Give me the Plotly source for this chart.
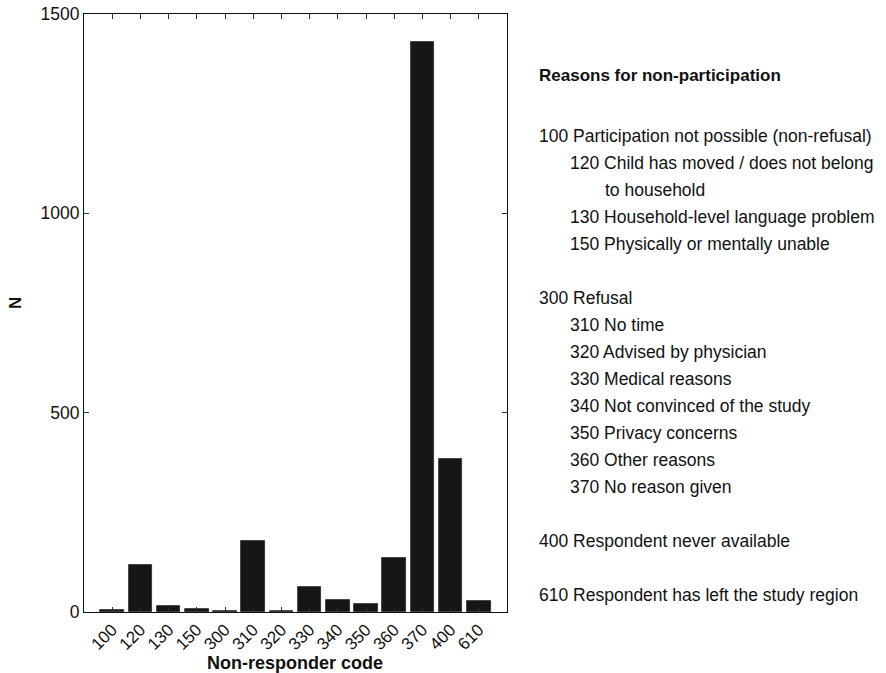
import plotly.graph_objects as go

# Non-responder codes and counts
codes = ["100", "120", "130", "150", "300", "310", "320", "330",
         "340", "350", "360", "370", "400", "610"]
counts = [5, 119, 14, 8, 3, 178, 2, 62, 31, 19, 135, 1430, 385, 27]

y_ticks = [0, 500, 1000, 1500]

legend_title = "Reasons for non-participation"
# (text, indent level) for the code key beside the chart; None = blank line
legend_lines = [
    None, None,
    ("100 Participation not possible (non-refusal)", 0),
    ("120 Child has moved / does not belong", 1),
    ("to household", 2),
    ("130 Household-level language problem", 1),
    ("150 Physically or mentally unable", 1),
    None,
    ("300 Refusal", 0),
    ("310 No time", 1),
    ("320 Advised by physician", 1),
    ("330 Medical reasons", 1),
    ("340 Not convinced of the study", 1),
    ("350 Privacy concerns", 1),
    ("360 Other reasons", 1),
    ("370 No reason given", 1),
    None,
    ("400 Respondent never available", 0),
    None,
    ("610 Respondent has left the study region", 0),
]

FONT = "Liberation Sans, Arial, sans-serif"
W, H = 886, 673
L, R, T, B = 84, 379, 14, 61
plot_w = W - L - R
plot_h = H - T - B


def px_to_paper(px, py):
    return (px - L) / plot_w, (H - B - py) / plot_h


fig = go.Figure()
fig.add_trace(go.Bar(
    x=list(range(len(codes))),
    y=counts,
    width=0.84,
    marker=dict(color="#161616", line=dict(color="#2a2a2a", width=0.8)),
    hovertext=codes,
))

annotations = []
# key title
tx, ty = px_to_paper(537, 75)
annotations.append(dict(
    text="<b>%s</b>" % legend_title, x=tx, y=ty, xref="paper", yref="paper",
    xanchor="left", yanchor="middle", showarrow=False,
    font=dict(family=FONT, size=17, color="#111"),
))
indent_px = [537, 568, 603]
line_y0, line_step = 82, 27.0
for i, item in enumerate(legend_lines):
    if item is None:
        continue
    text, lvl = item
    x, y = px_to_paper(indent_px[lvl], line_y0 + line_step * i)
    annotations.append(dict(
        text=text, x=x, y=y, xref="paper", yref="paper",
        xanchor="left", yanchor="middle", showarrow=False,
        font=dict(family=FONT, size=17.5, color="#111"),
    ))

# axis titles
nx, ny = px_to_paper(15, 303)
annotations.append(dict(
    text="<b>N</b>", x=nx, y=ny, xref="paper", yref="paper", textangle=-90,
    xanchor="center", yanchor="middle", showarrow=False,
    font=dict(family=FONT, size=17, color="#111"),
))
xx, xy = px_to_paper(295, 663)
annotations.append(dict(
    text="<b>Non-responder code</b>", x=xx, y=xy, xref="paper", yref="paper",
    xanchor="center", yanchor="middle", showarrow=False,
    font=dict(family=FONT, size=18, color="#111"),
))

fig.update_layout(
    width=W, height=H,
    margin=dict(l=L, r=R, t=T, b=B, autoexpand=False),
    paper_bgcolor="white", plot_bgcolor="white",
    showlegend=False,
    bargap=0,
    font=dict(family=FONT, size=17, color="#111"),
    annotations=annotations,
    xaxis=dict(
        range=[-1, 14], tickmode="array",
        tickvals=list(range(len(codes))), ticktext=codes,
        tickangle=-45, ticks="inside", ticklen=5, tickcolor="#333",
        showline=True, linecolor="#111", linewidth=1.2, mirror="ticks",
        showgrid=False, zeroline=False, automargin=False,
        tickfont=dict(family=FONT, size=17, color="#111"),
    ),
    yaxis=dict(
        range=[0, 1500], tickmode="array", tickvals=y_ticks,
        ticks="inside", ticklen=5, tickcolor="#333",
        showline=True, linecolor="#111", linewidth=1.2, mirror="ticks",
        showgrid=False, zeroline=False, automargin=False,
        tickfont=dict(family=FONT, size=17.5, color="#111"),
    ),
)

fig.write_html("out.html")
